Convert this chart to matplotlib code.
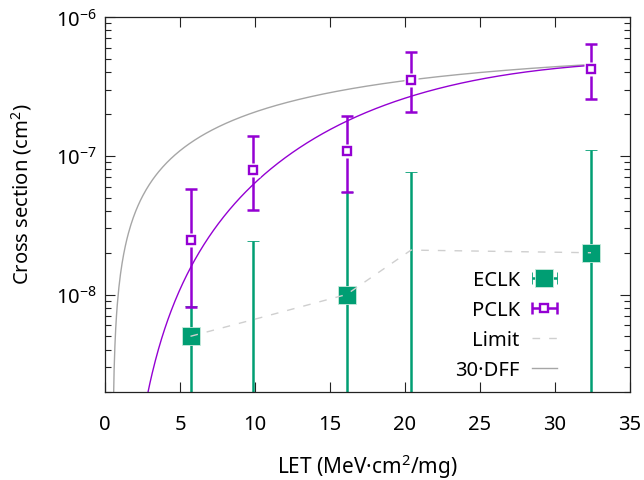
import numpy as np
import matplotlib
matplotlib.use('Agg')
import matplotlib.pyplot as plt
from matplotlib.ticker import FixedLocator, LogLocator, FuncFormatter, NullFormatter
from matplotlib.container import ErrorbarContainer
from matplotlib.legend_handler import HandlerErrorbar

plt.rcParams['font.family'] = ['Noto Sans', 'DejaVu Sans']
plt.rcParams['mathtext.fontset'] = 'custom'
plt.rcParams['mathtext.rm'] = 'Noto Sans'
plt.rcParams['mathtext.it'] = 'Noto Sans:italic'
plt.rcParams['mathtext.bf'] = 'Noto Sans:bold'

# LET of each beam (MeV cm2/mg)
let_vals = [5.7, 9.9, 16.1, 20.4, 32.4]

# ECLK cross sections; 9.9 and 20.4 had no events (value sits below the axis)
eclk_val = [5.0e-9, 1.0e-9, 1.0e-8, 1.0e-9, 2.0e-8]
eclk_lo = [1e-10, 1e-10, 1e-10, 1e-10, 1e-10]
eclk_hi = [8.2e-9, 2.45e-8, 5.5e-8, 7.6e-8, 1.10e-7]

# PCLK cross sections with confidence bounds
pclk_val = [2.49e-8, 7.94e-8, 1.09e-7, 3.49e-7, 4.19e-7]
pclk_lo = [8.16e-9, 4.09e-8, 5.52e-8, 2.06e-7, 2.58e-7]
pclk_hi = [5.77e-8, 1.39e-7, 1.95e-7, 5.58e-7, 6.34e-7]

# detection limit per run
limit_val = [5.0e-9, 6.6e-9, 1.0e-8, 2.09e-8, 2.0e-8]

# Weibull parameters: sat, onset, width, shape
dff_fit = (6.0e-7, 0.5, 22.5, 1.0)       # 30 x flip-flop response
pclk_fit = (5.0e-7, 1.0, 21.8, 2.25)

GREEN = '#009e73'
PURPLE = '#9400d3'
FS = 14.5


def weibull(L, sat, L0, W, s):
    return sat * (1.0 - np.exp(-(((L - L0) / W) ** s)))


fig = plt.figure(figsize=(6.44, 4.81), dpi=100)
ax = fig.add_axes([105 / 644, 1 - 392.5 / 481, 525 / 644, 374.5 / 481])

x = np.array(let_vals)

# ECLK
ev = np.array(eclk_val)
e_err = [ev - np.array(eclk_lo), np.array(eclk_hi) - ev]
eclk = ax.errorbar(x, ev, yerr=e_err, fmt='s', color=GREEN, ms=13.5,
                   mec='#c8eadd', mew=0.6, elinewidth=1.8, capsize=4.3,
                   capthick=1.8, zorder=2)

# PCLK: bars, white halo, then open squares
pv = np.array(pclk_val)
p_err = [pv - np.array(pclk_lo), np.array(pclk_hi) - pv]
pbars = ax.errorbar(x, pv, yerr=p_err, fmt='none', ecolor=PURPLE,
                    elinewidth=1.8, capsize=4.3, capthick=1.8, zorder=3)
ax.plot(x, pv, ls='none', marker='s', ms=10.5, mfc='white', mec='none', zorder=4)
pmark, = ax.plot(x, pv, ls='none', marker='s', ms=5.6, mfc='white',
                 mec=PURPLE, mew=1.7, zorder=5)

# upper limit line
lim, = ax.plot(x, limit_val, ls=(0, (5.5, 6.5)), color='#cfcfcf', lw=1.0, zorder=3.5)

# fitted curves
Ld = np.linspace(dff_fit[1] + 1e-3, x[-1], 600)
dff, = ax.plot(Ld, weibull(Ld, *dff_fit), color='#a6a6a6', lw=1.0, zorder=1.5)
Lp = np.linspace(pclk_fit[1] + 1e-3, x[-1], 600)
ax.plot(Lp, weibull(Lp, *pclk_fit), color=PURPLE, lw=1.0, zorder=1.6)

ax.set_yscale('log')
ax.set_xlim(0, 35)
ax.set_ylim(2e-9, 1e-6)

ax.xaxis.set_major_locator(FixedLocator(np.arange(0, 36, 5)))
ax.yaxis.set_major_locator(LogLocator(base=10, numticks=10))
ax.yaxis.set_minor_locator(LogLocator(base=10, subs=np.arange(2, 10), numticks=20))
ax.yaxis.set_minor_formatter(NullFormatter())
ax.yaxis.set_major_formatter(
    FuncFormatter(lambda v, p: r'10$^{\mathregular{-%d}}$' % round(-np.log10(v))))

ax.tick_params(which='both', direction='in', top=True, right=True,
               width=0.8, color='#222222', labelsize=FS, labelcolor='black')
ax.tick_params(which='major', length=7.5)
ax.tick_params(which='minor', length=4.5)
ax.tick_params(axis='x', pad=16)
ax.tick_params(axis='y', pad=6)
for sp in ax.spines.values():
    sp.set_linewidth(0.9)
    sp.set_color('#222222')

ax.set_xlabel('LET (MeV·cm$^{\\mathregular{2}}$/mg)', fontsize=15, va='center')
ax.set_ylabel('Cross section (cm$^{\\mathregular{2}}$)', fontsize=FS, va='center')
ax.xaxis.set_label_coords(0.5, -(467 - 392.5) / 374.5)
ax.yaxis.set_label_coords((22 - 105) / 525, (392.5 - 194) / 374.5)

# legend samples use horizontal error bars
h_eclk = ErrorbarContainer(eclk.lines, has_xerr=True, has_yerr=False, label='ECLK')
h_pclk = ErrorbarContainer((pmark, pbars.lines[1], pbars.lines[2]),
                           has_xerr=True, has_yerr=False, label='PCLK')
leg = ax.legend([h_eclk, h_pclk, lim, dff], ['ECLK', 'PCLK', 'Limit', '30·DFF'],
                handler_map={ErrorbarContainer: HandlerErrorbar(xerr_size=0.62, numpoints=1)},
                loc='upper right', bbox_to_anchor=(557 / 644, 1 - 271 / 481),
                bbox_transform=fig.transFigure, frameon=False, markerfirst=False,
                fontsize=FS, handlelength=1.25, handletextpad=0.6,
                labelspacing=0.5, borderpad=0, borderaxespad=0)

fig.savefig('out.png', dpi=100)
